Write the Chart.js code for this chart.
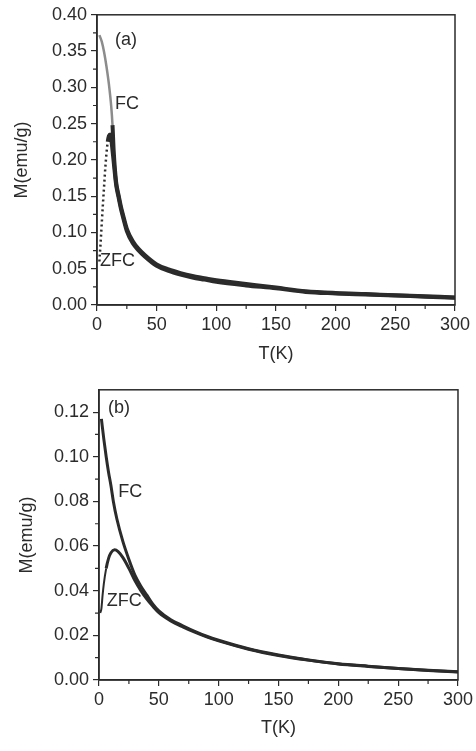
<!DOCTYPE html>
<html>
<head>
<meta charset="utf-8">
<script src="https://cdn.jsdelivr.net/npm/chart.js@4.4.1/dist/chart.umd.min.js"></script>
<style>
  html, body { margin: 0; padding: 0; background: #fff; }
  canvas { display: block; }
</style>
</head>
<body>
<canvas id="chartA" width="476" height="375"></canvas>
<canvas id="chartB" width="476" height="376"></canvas>
<script>
// panel (a) - FC / ZFC magnetization
const tempFcA = [2, 4, 6, 8, 10, 12, 13, 14, 16, 18, 20, 22, 25, 30, 35, 40, 50, 60, 70, 80, 90, 100, 125, 150, 175, 200, 225, 250, 275, 300];
const magFcA = [0.372, 0.363, 0.348, 0.328, 0.304, 0.272, 0.248, 0.212, 0.170, 0.152, 0.136, 0.123, 0.105, 0.088, 0.077, 0.069, 0.056, 0.049, 0.044, 0.040, 0.037, 0.034, 0.029, 0.024, 0.019, 0.0165, 0.015, 0.0135, 0.012, 0.0105];
const tempZfcA = [2, 3, 4, 5, 6, 7, 8, 9, 10, 11, 12, 13, 14, 16, 18, 20, 22, 25, 30, 35, 40, 50, 60, 70, 80, 90, 100, 125, 150, 175, 200, 225, 250, 275, 300];
const magZfcA = [0.060, 0.085, 0.113, 0.140, 0.165, 0.190, 0.210, 0.225, 0.233, 0.235, 0.228, 0.213, 0.197, 0.166, 0.149, 0.133, 0.120, 0.102, 0.085, 0.075, 0.067, 0.054, 0.047, 0.042, 0.038, 0.035, 0.032, 0.027, 0.023, 0.018, 0.016, 0.0145, 0.013, 0.0115, 0.010];

// panel (b)
const tempFcB = [2, 4, 6, 8, 10, 12, 15, 20, 25, 30, 35, 40, 45, 50, 60, 70, 80, 90, 100, 125, 150, 175, 200, 225, 250, 275, 300];
const magFcB = [0.117, 0.108, 0.100, 0.093, 0.087, 0.080, 0.072, 0.062, 0.054, 0.047, 0.042, 0.038, 0.034, 0.031, 0.027, 0.0243, 0.0218, 0.0196, 0.0178, 0.014, 0.0112, 0.0090, 0.0073, 0.0062, 0.0052, 0.0044, 0.0037];
const tempZfcB = [1, 2, 3, 4, 6, 8, 10, 13, 16, 20, 25, 30, 35, 40, 45, 50, 60, 70, 80, 90, 100, 125, 150, 175, 200, 225, 250, 275, 300];
const magZfcB = [0.030, 0.032, 0.038, 0.043, 0.050, 0.0545, 0.057, 0.0583, 0.0575, 0.0548, 0.0500, 0.0445, 0.0400, 0.0362, 0.0330, 0.0302, 0.0265, 0.0238, 0.0214, 0.0193, 0.0175, 0.0138, 0.0110, 0.0089, 0.0072, 0.0061, 0.0051, 0.0043, 0.0036];

// axis ranges / tick steps
const xRange = [0, 300];
const xStep = 50;
const yRangeA = [0, 0.40];
const yStepA = 0.05;
const yRangeB = [0, 0.13];
const yStepB = 0.02;

const FONT = "'Liberation Sans', Arial, sans-serif";
const INK = '#2b2b2b';

function toPoints(xs, ys) {
  return xs.map((x, i) => ({ x: x, y: ys[i] }));
}

// small ticks between the major ones, plus the frame
const minorTicks = {
  id: 'minorTicks',
  afterDraw(chart, args, opts) {
    const { ctx, chartArea: a, scales: { x, y } } = chart;
    ctx.save();
    ctx.strokeStyle = INK;
    ctx.lineWidth = 1.2;
    ctx.beginPath();
    const nx = Math.round((x.max - x.min) / opts.x);
    for (let i = 1; i < nx; i += 2) {
      const px = x.getPixelForValue(x.min + i * opts.x);
      ctx.moveTo(px, a.bottom);
      ctx.lineTo(px, a.bottom + 4);
    }
    const ny = Math.round((y.max - y.min) / opts.y);
    for (let i = 1; i < ny; i += 2) {
      const py = y.getPixelForValue(y.min + i * opts.y);
      ctx.moveTo(a.left, py);
      ctx.lineTo(a.left - 4, py);
    }
    ctx.stroke();
    ctx.lineWidth = 1.5;
    ctx.strokeRect(a.left, a.top, a.right - a.left, a.bottom - a.top);
    ctx.restore();
  }
};

// text labels placed in data coordinates
const curveLabels = {
  id: 'curveLabels',
  afterDatasetsDraw(chart, args, opts) {
    const { ctx, scales: { x, y } } = chart;
    ctx.save();
    ctx.fillStyle = INK;
    ctx.font = '18px ' + FONT;
    ctx.textAlign = 'left';
    ctx.textBaseline = 'middle';
    opts.items.forEach(it => {
      ctx.fillText(it.text, x.getPixelForValue(it.x), y.getPixelForValue(it.y));
    });
    ctx.restore();
  }
};

function makeConfig(p) {
  return {
    type: 'line',
    data: {
      datasets: [
        {
          label: 'FC',
          data: toPoints(p.tFc, p.mFc),
          borderColor: INK,
          borderWidth: p.lw,
          pointRadius: 0,
          cubicInterpolationMode: 'monotone',
          segment: p.fcSegment || {}
        },
        {
          label: 'ZFC',
          data: toPoints(p.tZfc, p.mZfc),
          borderColor: INK,
          borderWidth: p.lw,
          pointRadius: 0,
          cubicInterpolationMode: 'monotone',
          segment: p.zfcSegment || {}
        }
      ]
    },
    options: {
      responsive: false,
      animation: false,
      layout: { padding: { left: 0, top: p.padTop, right: p.padRight, bottom: 0 } },
      plugins: {
        legend: { display: false },
        tooltip: { enabled: false },
        minorTicks: { x: xStep / 2, y: p.yStep / 2 },
        curveLabels: { items: p.labels }
      },
      scales: {
        x: {
          type: 'linear',
          min: xRange[0],
          max: xRange[1],
          afterFit: s => { s.height = p.xHeight; },
          ticks: { stepSize: xStep, color: INK, font: { family: FONT, size: 18 }, padding: 3, maxRotation: 0 },
          grid: { drawOnChartArea: false, drawTicks: true, tickLength: 6, color: INK, lineWidth: 1.2 },
          border: { display: true, color: INK, width: 1.5 },
          title: { display: true, text: 'T(K)', color: INK, font: { family: FONT, size: 18 }, padding: { top: 4, bottom: p.xTitlePad } }
        },
        y: {
          type: 'linear',
          min: p.yRange[0],
          max: p.yRange[1],
          afterFit: s => { s.width = p.yWidth; },
          ticks: { stepSize: p.yStep, includeBounds: false, color: INK, font: { family: FONT, size: 18 }, padding: 4,
            callback: v => v.toFixed(2) },
          grid: { drawOnChartArea: false, drawTicks: true, tickLength: 6, color: INK, lineWidth: 1.2 },
          border: { display: true, color: INK, width: 1.5 },
          title: { display: true, text: 'M(emu/g)', color: INK, font: { family: FONT, size: 18 }, padding: { top: p.yTitlePad, bottom: 4 } }
        }
      }
    },
    plugins: [minorTicks, curveLabels]
  };
}

// 그래프 (a)
new Chart(document.getElementById('chartA'), makeConfig({
  tFc: tempFcA, mFc: magFcA, tZfc: tempZfcA, mZfc: magZfcA,
  yRange: yRangeA, yStep: yStepA, lw: 4,
  padTop: 7, padRight: 21, xHeight: 70, yWidth: 97, xTitlePad: 10, yTitlePad: 11,
  // upper part of FC looks lighter in the scan
  fcSegment: { borderColor: c => (c.p0.parsed.y > 0.25 ? '#8c8c8c' : INK), borderWidth: c => (c.p0.parsed.y > 0.25 ? 2.5 : 4) },
  // steep rise of ZFC shows as dots
  zfcSegment: { borderDash: c => (c.p1.parsed.x <= 9 ? [2, 3] : undefined), borderWidth: c => (c.p1.parsed.x <= 9 ? 2.5 : 4) },
  labels: [
    { text: '(a)', x: 15, y: 0.365 },
    { text: 'FC', x: 15, y: 0.277 },
    { text: 'ZFC', x: 2.5, y: 0.060 }
  ]
}));

// 그래프 (b)
new Chart(document.getElementById('chartB'), makeConfig({
  tFc: tempFcB, mFc: magFcB, tZfc: tempZfcB, mZfc: magZfcB,
  yRange: yRangeB, yStep: yStepB, lw: 3,
  padTop: 6, padRight: 17, xHeight: 71, yWidth: 99, xTitlePad: 12, yTitlePad: 16,
  zfcSegment: { borderWidth: c => (c.p1.parsed.x <= 6 ? 2 : 3) },
  labels: [
    { text: '(b)', x: 7.5, y: 0.1217 },
    { text: 'FC', x: 16, y: 0.084 },
    { text: 'ZFC', x: 6.5, y: 0.0352 }
  ]
}));
</script>
</body>
</html>
